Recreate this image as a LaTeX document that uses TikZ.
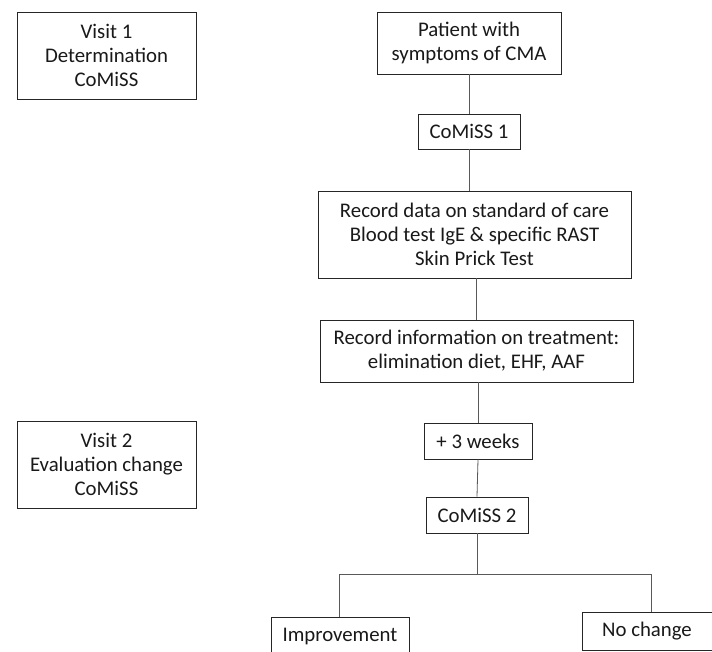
\documentclass[tikz,border=0pt]{standalone}
\usepackage{fontspec}
\setmainfont{Carlito}
\begin{document}
\begin{tikzpicture}[x=1pt,y=-1pt,
  box/.style={draw=black!85, line width=0.9pt, align=center, inner sep=0pt,
    font=\fontsize{20.8}{24}\selectfont, text=black!90},
  conn/.style={draw=black!65, line width=0.8pt}]
\useasboundingbox[fill=white] (0,0) rectangle (712,651);
\node[box, minimum width=179, minimum height=87] (v1) at (106.5,55.5) {Visit 1\\Determination\\CoMiSS};
\node[box, minimum width=184, minimum height=62] (pat) at (469,43) {Patient with\\symptoms of CMA};
\node[box, minimum width=102, minimum height=35] (c1) at (469,131.5) {CoMiSS 1};
\node[box, minimum width=313, minimum height=87] (rec) at (474.5,234.5) {Record data on standard of care\\Blood test IgE \& specific RAST\\Skin Prick Test};
\node[box, minimum width=313, minimum height=62] (info) at (476.5,351) {Record information on treatment:\\elimination diet, EHF, AAF};
\node[box, minimum width=179, minimum height=87] (v2) at (106.5,464.5) {Visit 2\\Evaluation change\\CoMiSS};
\node[box, minimum width=108, minimum height=36] (wk) at (478,441) {+ 3 weeks};
\node[box, minimum width=102, minimum height=36] (c2) at (477,515) {CoMiSS 2};
\node[box, minimum width=138, minimum height=38] (imp) at (340,636) {Improvement};
\node[box, minimum width=130, minimum height=38] (noc) at (647,631) {No change};
\coordinate (j) at (479,574);
\coordinate (jl) at (339,574);
\coordinate (jr) at (651,574);
\draw[conn] (pat.south) -- (c1.north);
\draw[conn] (c1.south) -- (c1.south |- rec.north);
\draw[conn] (info.north |- rec.south) -- (info.north);
\draw[conn] (wk.north |- info.south) -- (wk.north);
\draw[conn] (wk.south) -- (c2.north);
\draw[conn] (c2.south) -- (c2.south |- j);
\draw[conn] (jl) -- (jr);
\draw[conn] (jl) -- (jl |- imp.north);
\draw[conn] (jr) -- (jr |- noc.north);
\end{tikzpicture}
\end{document}
